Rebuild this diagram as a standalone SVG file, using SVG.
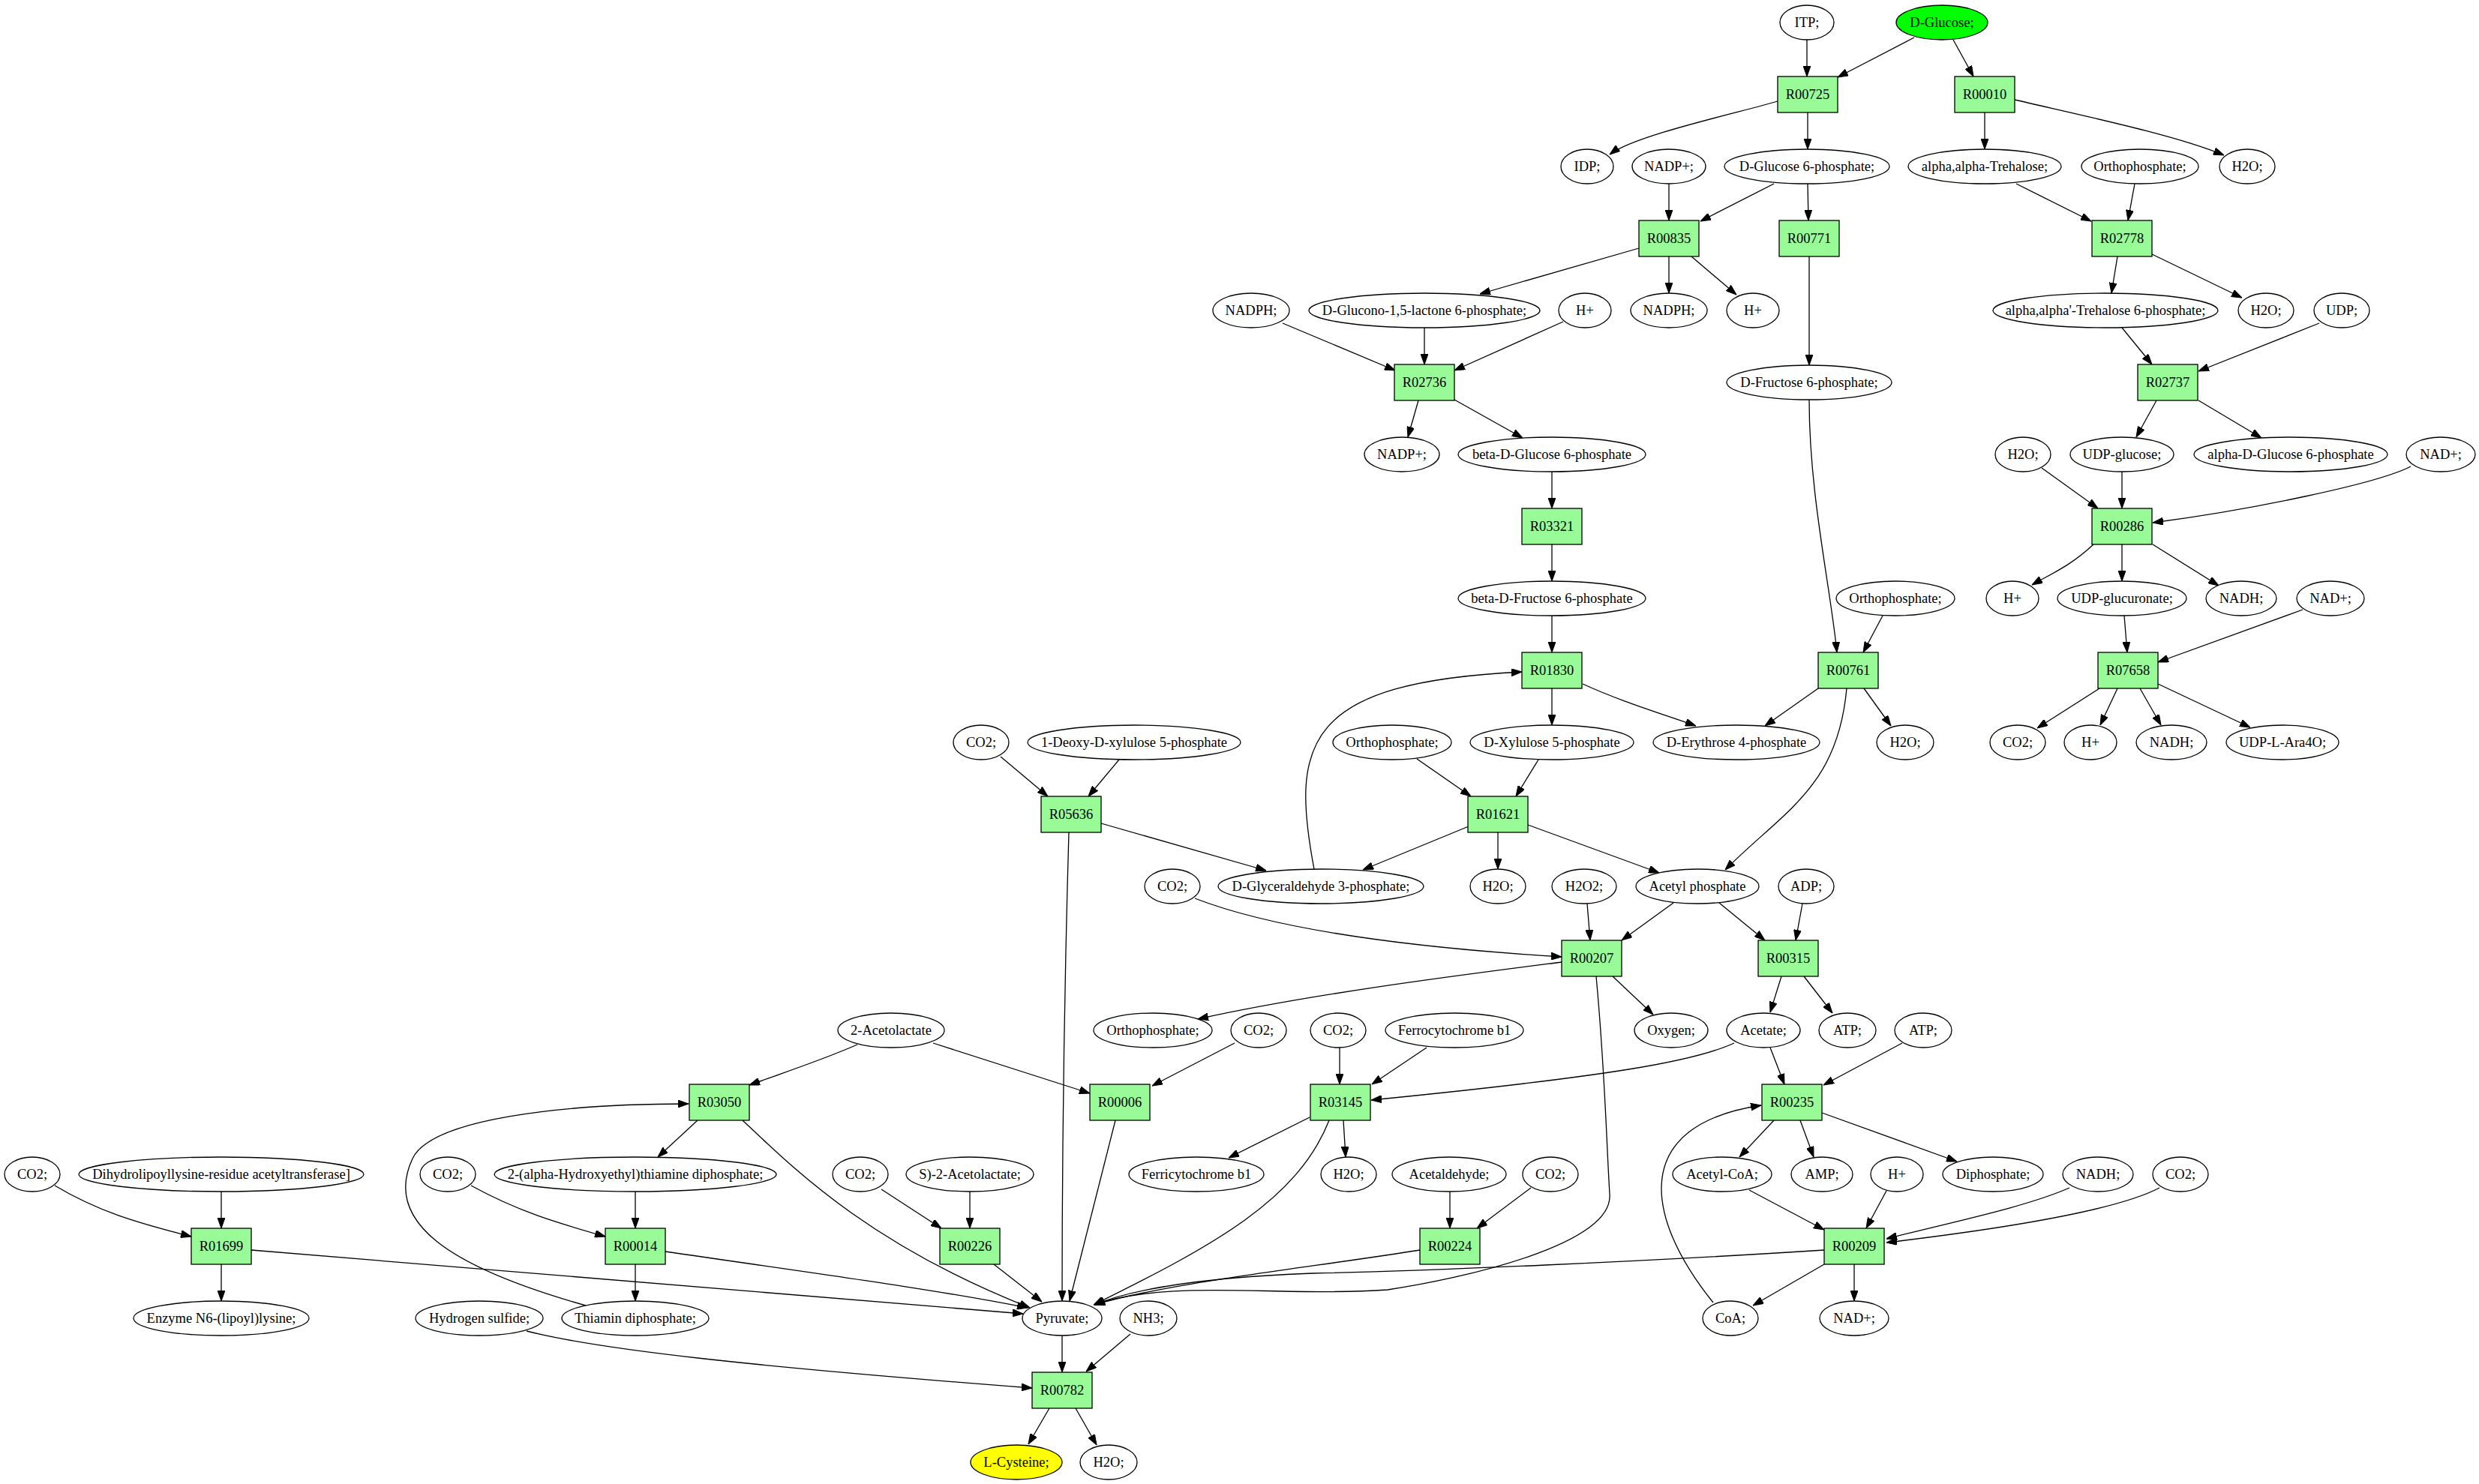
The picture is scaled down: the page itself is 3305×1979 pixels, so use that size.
<svg xmlns="http://www.w3.org/2000/svg" width="3305" height="1979" viewBox="0 0 3305 1979">
<style>
.bg{fill:#ffffff}
ellipse{fill:#ffffff;stroke:#000000;stroke-width:1.3}
rect{fill:#98fb98;stroke:#000000;stroke-width:1.3}
text{font-family:"Liberation Serif","Times New Roman",serif;font-size:18.5px;text-anchor:middle;fill:#000000}
.e path{fill:none;stroke:#000000;stroke-width:1.3;marker-end:url(#ah)}
</style>
<defs>
<marker id="ah" markerUnits="userSpaceOnUse" markerWidth="14" markerHeight="10" refX="14" refY="5" orient="auto">
<path d="M0,0 L14,5 L0,10 z" fill="#000000" stroke="#000000" stroke-width="1"/>
</marker>
</defs>
<rect class="bg" x="0" y="0" width="3305" height="1979" style="fill:#ffffff;stroke:none"/>
<g class="e" id="edges">
<path d="M2409,53 L2409,102"/>
<path d="M2552,50 L2450,103"/>
<path d="M2604,53 L2631,102"/>
<path d="M2370,135 C2320,150 2180,180 2146,206"/>
<path d="M2410,150 L2410,199"/>
<path d="M2646,150 L2646,199"/>
<path d="M2686,133 C2780,155 2900,180 2965,207"/>
<path d="M2225,245 L2225,294"/>
<path d="M2365,245 L2267,295"/>
<path d="M2410,245 L2411,294"/>
<path d="M2688,245 L2788,295"/>
<path d="M2846,245 L2837,294"/>
<path d="M2185,331 L1973,392"/>
<path d="M2225,342 L2225,391"/>
<path d="M2255,342 L2315,393"/>
<path d="M2412,342 L2412,487"/>
<path d="M2823,342 L2815,391"/>
<path d="M2869,339 L2989,397"/>
<path d="M1710,431 L1860,494"/>
<path d="M1899,437 L1899,486"/>
<path d="M2084,429 L1939,494"/>
<path d="M2829,437 L2869,486"/>
<path d="M3092,431 L2931,495"/>
<path d="M1891,534 L1877,583"/>
<path d="M1939,533 L2030,584"/>
<path d="M2875,534 L2848,583"/>
<path d="M2931,534 L3015,584"/>
<path d="M2069,629 L2069,678"/>
<path d="M2722,624 L2797,678"/>
<path d="M2829,629 L2829,678"/>
<path d="M3214,622 C3170,645 3000,680 2870,697"/>
<path d="M2069,726 L2069,775"/>
<path d="M2791,726 C2760,755 2735,765 2709,780"/>
<path d="M2829,726 L2829,775"/>
<path d="M2870,726 L2958,781"/>
<path d="M2069,821 L2069,870"/>
<path d="M2412,533 C2412,660 2440,780 2449,870"/>
<path d="M2510,821 L2484,870"/>
<path d="M2832,821 L2836,870"/>
<path d="M3070,813 L2877,883"/>
<path d="M2069,918 L2069,967"/>
<path d="M2110,912 C2160,935 2210,950 2261,968"/>
<path d="M2424,918 L2353,968"/>
<path d="M2485,918 L2521,968"/>
<path d="M2462,918 C2450,1050 2380,1080 2300,1160"/>
<path d="M2799,918 L2716,971"/>
<path d="M2823,918 L2800,967"/>
<path d="M2853,918 L2881,967"/>
<path d="M2877,912 L3000,970"/>
<path d="M1334,1009 L1397,1062"/>
<path d="M1492,1013 L1451,1062"/>
<path d="M1889,1012 L1961,1062"/>
<path d="M2051,1013 L2021,1062"/>
<path d="M1468,1098 L1688,1161"/>
<path d="M1425,1110 C1418,1350 1416,1550 1416,1735"/>
<path d="M1958,1102 L1817,1160"/>
<path d="M1997,1110 L1997,1159"/>
<path d="M2037,1100 L2212,1164"/>
<path d="M1752,1159 C1720,990 1740,910 2029,896"/>
<path d="M1593,1198 Q1740,1255 2082,1276"/>
<path d="M2116,1205 L2120,1254"/>
<path d="M2231,1204 L2162,1254"/>
<path d="M2292,1204 L2353,1254"/>
<path d="M2403,1205 L2394,1254"/>
<path d="M2082,1283 C1950,1300 1750,1325 1597,1359"/>
<path d="M2150,1302 L2204,1353"/>
<path d="M2128,1302 C2140,1430 2142,1530 2146,1592 C2152,1660 1950,1705 1850,1720 C1700,1730 1560,1705 1459,1740"/>
<path d="M2375,1302 L2360,1350"/>
<path d="M2405,1302 L2443,1351"/>
<path d="M1143,1393 C1100,1412 1060,1425 999,1447"/>
<path d="M1244,1391 L1453,1458"/>
<path d="M1646,1391 L1536,1448"/>
<path d="M1786,1397 L1786,1446"/>
<path d="M1902,1397 L1829,1446"/>
<path d="M2312,1391 C2260,1415 2150,1435 1828,1467"/>
<path d="M2360,1397 L2379,1446"/>
<path d="M2536,1391 L2431,1447"/>
<path d="M930,1494 L877,1543"/>
<path d="M990,1494 C1060,1560 1160,1660 1373,1744"/>
<path d="M1487,1494 L1426,1735"/>
<path d="M1746,1490 L1638,1544"/>
<path d="M1791,1494 L1794,1543"/>
<path d="M1772,1494 C1730,1600 1620,1660 1458,1740"/>
<path d="M2365,1494 L2319,1543"/>
<path d="M2400,1494 L2418,1543"/>
<path d="M2429,1484 L2609,1549"/>
<path d="M73,1581 C130,1615 180,1630 255,1649"/>
<path d="M295,1589 L295,1638"/>
<path d="M628,1581 C690,1615 740,1630 807,1649"/>
<path d="M847,1589 L847,1638"/>
<path d="M1175,1586 L1255,1638"/>
<path d="M1293,1589 L1293,1638"/>
<path d="M1933,1589 L1933,1638"/>
<path d="M2041,1584 L1969,1638"/>
<path d="M2332,1587 L2432,1640"/>
<path d="M2515,1588 L2488,1638"/>
<path d="M2759,1584 C2700,1610 2600,1630 2515,1652"/>
<path d="M2879,1584 C2830,1610 2700,1635 2515,1657"/>
<path d="M295,1686 L295,1735"/>
<path d="M335,1667 L1364,1752"/>
<path d="M847,1686 L847,1735"/>
<path d="M887,1669 C1100,1700 1250,1720 1370,1744"/>
<path d="M1325,1686 L1389,1736"/>
<path d="M1893,1667 C1750,1690 1560,1710 1459,1740"/>
<path d="M2432,1667 C2200,1682 1900,1695 1750,1698 C1620,1703 1520,1715 1459,1740"/>
<path d="M2432,1686 L2337,1741"/>
<path d="M2472,1686 L2472,1735"/>
<path d="M781,1741 C600,1690 510,1630 550,1545 C575,1492 750,1472 918,1472"/>
<path d="M2284,1737 C2190,1620 2175,1500 2348,1474"/>
<path d="M702,1775 C800,1800 1000,1822 1376,1851"/>
<path d="M1416,1781 L1416,1830"/>
<path d="M1507,1779 L1448,1829"/>
<path d="M1399,1878 L1371,1926"/>
<path d="M1434,1878 L1462,1927"/>
</g>
<g id="n_ITP"><ellipse cx="2409" cy="30" rx="36" ry="23"/><text x="2409" y="36">ITP;</text></g>
<g id="n_DGlucose"><ellipse cx="2589" cy="30" rx="61" ry="23" style="fill:#00ff00"/><text x="2589" y="36">D-Glucose;</text></g>
<g id="R00725"><rect x="2370" y="102" width="80" height="48"/><text x="2410" y="132">R00725</text></g>
<g id="R00010"><rect x="2606" y="102" width="80" height="48"/><text x="2646" y="132">R00010</text></g>
<g id="n_IDP"><ellipse cx="2116" cy="222" rx="35" ry="23"/><text x="2116" y="228">IDP;</text></g>
<g id="n_NADP_1"><ellipse cx="2225" cy="222" rx="49" ry="23"/><text x="2225" y="228">NADP+;</text></g>
<g id="n_DG6P"><ellipse cx="2409" cy="222" rx="110" ry="23"/><text x="2409" y="228">D-Glucose 6-phosphate;</text></g>
<g id="n_Trehalose"><ellipse cx="2646" cy="222" rx="102" ry="23"/><text x="2646" y="228">alpha,alpha-Trehalose;</text></g>
<g id="n_Ortho_1"><ellipse cx="2853" cy="222" rx="78" ry="23"/><text x="2853" y="228">Orthophosphate;</text></g>
<g id="n_H2O_1"><ellipse cx="2996" cy="222" rx="37" ry="23"/><text x="2996" y="228">H2O;</text></g>
<g id="R00835"><rect x="2185" y="294" width="80" height="48"/><text x="2225" y="324">R00835</text></g>
<g id="R00771"><rect x="2372" y="294" width="80" height="48"/><text x="2412" y="324">R00771</text></g>
<g id="R02778"><rect x="2789" y="294" width="80" height="48"/><text x="2829" y="324">R02778</text></g>
<g id="n_NADPH_1"><ellipse cx="1668" cy="414" rx="51" ry="23"/><text x="1668" y="420">NADPH;</text></g>
<g id="n_Glucono"><ellipse cx="1899" cy="414" rx="154" ry="23"/><text x="1899" y="420">D-Glucono-1,5-lactone 6-phosphate;</text></g>
<g id="n_H_1"><ellipse cx="2113" cy="414" rx="35" ry="23"/><text x="2113" y="420">H+</text></g>
<g id="n_NADPH_2"><ellipse cx="2225" cy="414" rx="51" ry="23"/><text x="2225" y="420">NADPH;</text></g>
<g id="n_H_2"><ellipse cx="2337" cy="414" rx="35" ry="23"/><text x="2337" y="420">H+</text></g>
<g id="n_TreT6P"><ellipse cx="2807" cy="414" rx="150" ry="23"/><text x="2807" y="420">alpha,alpha'-Trehalose 6-phosphate;</text></g>
<g id="n_H2O_2"><ellipse cx="3021" cy="414" rx="37" ry="23"/><text x="3021" y="420">H2O;</text></g>
<g id="n_UDP"><ellipse cx="3122" cy="414" rx="37" ry="23"/><text x="3122" y="420">UDP;</text></g>
<g id="R02736"><rect x="1859" y="486" width="80" height="48"/><text x="1899" y="516">R02736</text></g>
<g id="n_DF6P"><ellipse cx="2412" cy="510" rx="110" ry="23"/><text x="2412" y="516">D-Fructose 6-phosphate;</text></g>
<g id="R02737"><rect x="2850" y="486" width="80" height="48"/><text x="2890" y="516">R02737</text></g>
<g id="n_NADP_2"><ellipse cx="1869" cy="606" rx="50" ry="23"/><text x="1869" y="612">NADP+;</text></g>
<g id="n_bDG6P"><ellipse cx="2069" cy="606" rx="125" ry="23"/><text x="2069" y="612">beta-D-Glucose 6-phosphate</text></g>
<g id="n_H2O_3"><ellipse cx="2697" cy="606" rx="37" ry="23"/><text x="2697" y="612">H2O;</text></g>
<g id="n_UDPglucose"><ellipse cx="2829" cy="606" rx="69" ry="23"/><text x="2829" y="612">UDP-glucose;</text></g>
<g id="n_aDG6P"><ellipse cx="3054" cy="606" rx="129" ry="23"/><text x="3054" y="612">alpha-D-Glucose 6-phosphate</text></g>
<g id="n_NAD_1"><ellipse cx="3254" cy="606" rx="46" ry="23"/><text x="3254" y="612">NAD+;</text></g>
<g id="R03321"><rect x="2029" y="678" width="80" height="48"/><text x="2069" y="708">R03321</text></g>
<g id="R00286"><rect x="2789" y="678" width="80" height="48"/><text x="2829" y="708">R00286</text></g>
<g id="n_bDF6P"><ellipse cx="2069" cy="798" rx="125" ry="23"/><text x="2069" y="804">beta-D-Fructose 6-phosphate</text></g>
<g id="n_Ortho_2"><ellipse cx="2527" cy="798" rx="79" ry="23"/><text x="2527" y="804">Orthophosphate;</text></g>
<g id="n_H_3"><ellipse cx="2683" cy="798" rx="35" ry="23"/><text x="2683" y="804">H+</text></g>
<g id="n_UDPglucuronate"><ellipse cx="2829" cy="798" rx="86" ry="23"/><text x="2829" y="804">UDP-glucuronate;</text></g>
<g id="n_NADH_1"><ellipse cx="2988" cy="798" rx="47" ry="23"/><text x="2988" y="804">NADH;</text></g>
<g id="n_NAD_2"><ellipse cx="3107" cy="798" rx="45" ry="23"/><text x="3107" y="804">NAD+;</text></g>
<g id="R01830"><rect x="2029" y="870" width="80" height="48"/><text x="2069" y="900">R01830</text></g>
<g id="R00761"><rect x="2424" y="870" width="80" height="48"/><text x="2464" y="900">R00761</text></g>
<g id="R07658"><rect x="2797" y="870" width="80" height="48"/><text x="2837" y="900">R07658</text></g>
<g id="n_CO2_1"><ellipse cx="1308" cy="990" rx="37" ry="23"/><text x="1308" y="996">CO2;</text></g>
<g id="n_Deoxy"><ellipse cx="1512" cy="990" rx="142" ry="23"/><text x="1512" y="996">1-Deoxy-D-xylulose 5-phosphate</text></g>
<g id="n_Ortho_3"><ellipse cx="1856" cy="990" rx="79" ry="23"/><text x="1856" y="996">Orthophosphate;</text></g>
<g id="n_Xylulose"><ellipse cx="2069" cy="990" rx="109" ry="23"/><text x="2069" y="996">D-Xylulose 5-phosphate</text></g>
<g id="n_Erythrose"><ellipse cx="2315" cy="990" rx="111" ry="23"/><text x="2315" y="996">D-Erythrose 4-phosphate</text></g>
<g id="n_H2O_4"><ellipse cx="2540" cy="990" rx="38" ry="23"/><text x="2540" y="996">H2O;</text></g>
<g id="n_CO2_2"><ellipse cx="2690" cy="990" rx="37" ry="23"/><text x="2690" y="996">CO2;</text></g>
<g id="n_H_4"><ellipse cx="2787" cy="990" rx="35" ry="23"/><text x="2787" y="996">H+</text></g>
<g id="n_NADH_2"><ellipse cx="2895" cy="990" rx="47" ry="23"/><text x="2895" y="996">NADH;</text></g>
<g id="n_UDPLAra4O"><ellipse cx="3043" cy="990" rx="75" ry="23"/><text x="3043" y="996">UDP-L-Ara4O;</text></g>
<g id="R05636"><rect x="1388" y="1062" width="80" height="48"/><text x="1428" y="1092">R05636</text></g>
<g id="R01621"><rect x="1957" y="1062" width="80" height="48"/><text x="1997" y="1092">R01621</text></g>
<g id="n_CO2_3"><ellipse cx="1563" cy="1182" rx="37" ry="23"/><text x="1563" y="1188">CO2;</text></g>
<g id="n_G3P"><ellipse cx="1761" cy="1182" rx="137" ry="23"/><text x="1761" y="1188">D-Glyceraldehyde 3-phosphate;</text></g>
<g id="n_H2O_5"><ellipse cx="1997" cy="1182" rx="37" ry="23"/><text x="1997" y="1188">H2O;</text></g>
<g id="n_H2O2"><ellipse cx="2112" cy="1182" rx="43" ry="23"/><text x="2112" y="1188">H2O2;</text></g>
<g id="n_AcP"><ellipse cx="2263" cy="1182" rx="82" ry="23"/><text x="2263" y="1188">Acetyl phosphate</text></g>
<g id="n_ADP"><ellipse cx="2408" cy="1182" rx="37" ry="23"/><text x="2408" y="1188">ADP;</text></g>
<g id="R00207"><rect x="2082" y="1254" width="80" height="48"/><text x="2122" y="1284">R00207</text></g>
<g id="R00315"><rect x="2344" y="1254" width="80" height="48"/><text x="2384" y="1284">R00315</text></g>
<g id="n_2Acetolactate"><ellipse cx="1188" cy="1374" rx="71" ry="23"/><text x="1188" y="1380">2-Acetolactate</text></g>
<g id="n_Ortho_4"><ellipse cx="1537" cy="1374" rx="79" ry="23"/><text x="1537" y="1380">Orthophosphate;</text></g>
<g id="n_CO2_4"><ellipse cx="1678" cy="1374" rx="37" ry="23"/><text x="1678" y="1380">CO2;</text></g>
<g id="n_CO2_5"><ellipse cx="1784" cy="1374" rx="37" ry="23"/><text x="1784" y="1380">CO2;</text></g>
<g id="n_Ferrocyt"><ellipse cx="1939" cy="1374" rx="92" ry="23"/><text x="1939" y="1380">Ferrocytochrome b1</text></g>
<g id="n_Oxygen"><ellipse cx="2228" cy="1374" rx="49" ry="23"/><text x="2228" y="1380">Oxygen;</text></g>
<g id="n_Acetate"><ellipse cx="2351" cy="1374" rx="49" ry="23"/><text x="2351" y="1380">Acetate;</text></g>
<g id="n_ATP_1"><ellipse cx="2463" cy="1374" rx="38" ry="23"/><text x="2463" y="1380">ATP;</text></g>
<g id="n_ATP_2"><ellipse cx="2564" cy="1374" rx="38" ry="23"/><text x="2564" y="1380">ATP;</text></g>
<g id="R03050"><rect x="919" y="1446" width="80" height="48"/><text x="959" y="1476">R03050</text></g>
<g id="R00006"><rect x="1453" y="1446" width="80" height="48"/><text x="1493" y="1476">R00006</text></g>
<g id="R03145"><rect x="1747" y="1446" width="80" height="48"/><text x="1787" y="1476">R03145</text></g>
<g id="R00235"><rect x="2349" y="1446" width="80" height="48"/><text x="2389" y="1476">R00235</text></g>
<g id="n_CO2_6"><ellipse cx="43" cy="1566" rx="37" ry="23"/><text x="43" y="1572">CO2;</text></g>
<g id="n_Dihydro"><ellipse cx="295" cy="1566" rx="190" ry="23"/><text x="295" y="1572">Dihydrolipoyllysine-residue acetyltransferase]</text></g>
<g id="n_CO2_7"><ellipse cx="597" cy="1566" rx="37" ry="23"/><text x="597" y="1572">CO2;</text></g>
<g id="n_HETDP"><ellipse cx="847" cy="1566" rx="188" ry="23"/><text x="847" y="1572">2-(alpha-Hydroxyethyl)thiamine diphosphate;</text></g>
<g id="n_CO2_8"><ellipse cx="1147" cy="1566" rx="37" ry="23"/><text x="1147" y="1572">CO2;</text></g>
<g id="n_S2Acetolactate"><ellipse cx="1293" cy="1566" rx="85" ry="23"/><text x="1293" y="1572">S)-2-Acetolactate;</text></g>
<g id="n_Ferricyt"><ellipse cx="1595" cy="1566" rx="90" ry="23"/><text x="1595" y="1572">Ferricytochrome b1</text></g>
<g id="n_H2O_6"><ellipse cx="1798" cy="1566" rx="37" ry="23"/><text x="1798" y="1572">H2O;</text></g>
<g id="n_Acetaldehyde"><ellipse cx="1932" cy="1566" rx="76" ry="23"/><text x="1932" y="1572">Acetaldehyde;</text></g>
<g id="n_CO2_9"><ellipse cx="2067" cy="1566" rx="37" ry="23"/><text x="2067" y="1572">CO2;</text></g>
<g id="n_AcCoA"><ellipse cx="2296" cy="1566" rx="66" ry="23"/><text x="2296" y="1572">Acetyl-CoA;</text></g>
<g id="n_AMP"><ellipse cx="2429" cy="1566" rx="41" ry="23"/><text x="2429" y="1572">AMP;</text></g>
<g id="n_H_5"><ellipse cx="2529" cy="1566" rx="35" ry="23"/><text x="2529" y="1572">H+</text></g>
<g id="n_Diphosphate"><ellipse cx="2657" cy="1566" rx="67" ry="23"/><text x="2657" y="1572">Diphosphate;</text></g>
<g id="n_NADH_3"><ellipse cx="2797" cy="1566" rx="47" ry="23"/><text x="2797" y="1572">NADH;</text></g>
<g id="n_CO2_10"><ellipse cx="2907" cy="1566" rx="37" ry="23"/><text x="2907" y="1572">CO2;</text></g>
<g id="R01699"><rect x="255" y="1638" width="80" height="48"/><text x="295" y="1668">R01699</text></g>
<g id="R00014"><rect x="807" y="1638" width="80" height="48"/><text x="847" y="1668">R00014</text></g>
<g id="R00226"><rect x="1253" y="1638" width="80" height="48"/><text x="1293" y="1668">R00226</text></g>
<g id="R00224"><rect x="1893" y="1638" width="80" height="48"/><text x="1933" y="1668">R00224</text></g>
<g id="R00209"><rect x="2432" y="1638" width="80" height="48"/><text x="2472" y="1668">R00209</text></g>
<g id="n_EnzymeN6"><ellipse cx="295" cy="1758" rx="117" ry="23"/><text x="295" y="1764">Enzyme N6-(lipoyl)lysine;</text></g>
<g id="n_H2S"><ellipse cx="639" cy="1758" rx="85" ry="23"/><text x="639" y="1764">Hydrogen sulfide;</text></g>
<g id="n_ThDP"><ellipse cx="847" cy="1758" rx="98" ry="23"/><text x="847" y="1764">Thiamin diphosphate;</text></g>
<g id="n_Pyruvate"><ellipse cx="1416" cy="1758" rx="53" ry="23"/><text x="1416" y="1764">Pyruvate;</text></g>
<g id="n_NH3"><ellipse cx="1531" cy="1758" rx="38" ry="23"/><text x="1531" y="1764">NH3;</text></g>
<g id="n_CoA"><ellipse cx="2307" cy="1758" rx="37" ry="23"/><text x="2307" y="1764">CoA;</text></g>
<g id="n_NAD_3"><ellipse cx="2472" cy="1758" rx="46" ry="23"/><text x="2472" y="1764">NAD+;</text></g>
<g id="R00782"><rect x="1376" y="1830" width="80" height="48"/><text x="1416" y="1860">R00782</text></g>
<g id="n_LCysteine"><ellipse cx="1355" cy="1950" rx="61" ry="23" style="fill:#ffff00"/><text x="1355" y="1956">L-Cysteine;</text></g>
<g id="n_H2O_7"><ellipse cx="1478" cy="1950" rx="38" ry="23"/><text x="1478" y="1956">H2O;</text></g>
</svg>
